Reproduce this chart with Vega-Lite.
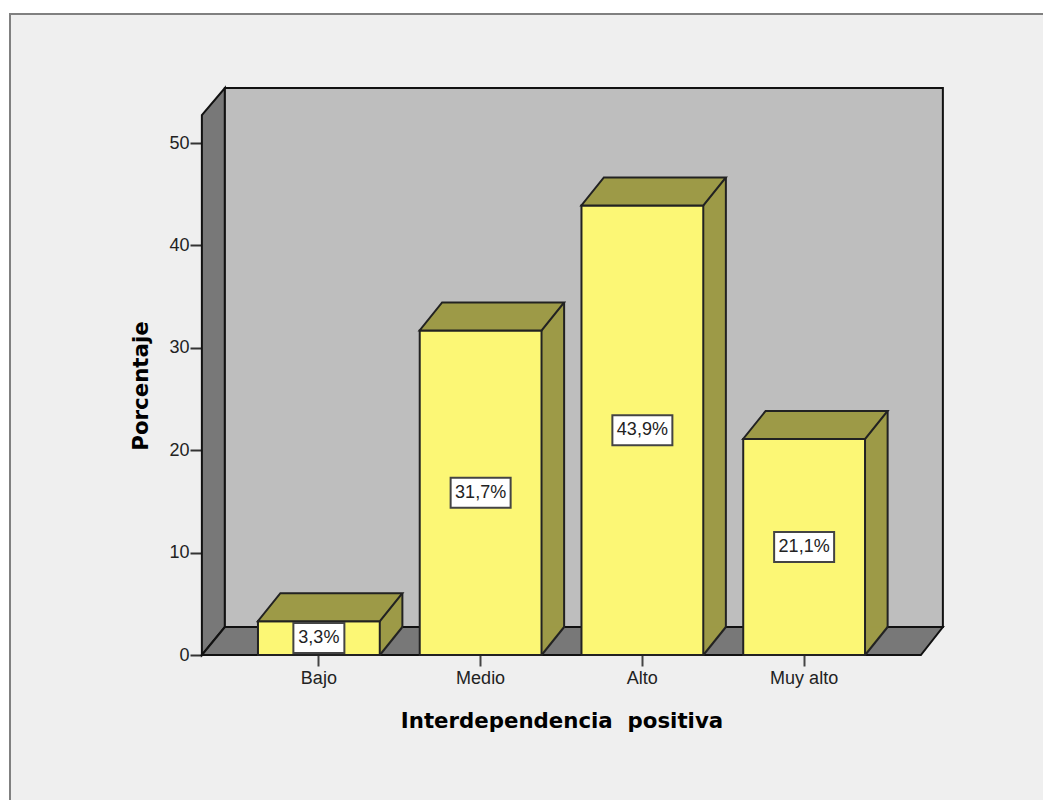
{"$schema":"https://vega.github.io/schema/vega-lite/v6.json","width":1037,"height":790,"autosize":{"type":"none"},"padding":{"left":10,"top":14,"right":0,"bottom":0},"background":"#ffffff","view":{"fill":"#efefef","stroke":"#808080","strokeWidth":2},"data":{"values":[{"categoria":"Bajo","porcentaje":3.3,"etiqueta":"3,3%"},{"categoria":"Medio","porcentaje":31.7,"etiqueta":"31,7%"},{"categoria":"Alto","porcentaje":43.9,"etiqueta":"43,9%"},{"categoria":"Muy alto","porcentaje":21.1,"etiqueta":"21,1%"}]},"encoding":{"x":{"field":"categoria","type":"nominal","sort":null,"scale":{"type":"band","domain":["Bajo","Medio","Alto","Muy alto"],"range":[228,875],"paddingInner":0.247,"paddingOuter":0.1235},"axis":{"title":"Interdependencia\u00a0\u00a0positiva","titleFont":"DejaVu Sans","titleFontWeight":"bold","titleFontSize":21.3,"titleColor":"#000000","titlePadding":23,"labelFont":"Liberation Sans","labelFontSize":18,"labelColor":"#222222","labelAngle":0,"labelPadding":3,"tickSize":11,"tickWidth":2,"tickColor":"#444444","domain":false,"grid":false,"offset":-149}},"y":{"field":"porcentaje","type":"quantitative","scale":{"domain":[0,52.64],"range":[641,102],"nice":false,"zero":false},"axis":{"title":"Porcentaje","titleFont":"DejaVu Sans","titleFontWeight":"bold","titleFontSize":21.3,"titleColor":"#000000","titlePadding":17,"labelFont":"Liberation Sans","labelFontSize":18,"labelColor":"#222222","labelPadding":1,"tickSize":12,"tickWidth":2,"tickColor":"#333333","values":[0,10,20,30,40,50],"domain":false,"grid":false,"offset":-192}}},"layer":[{"data":{"values":[{"categoria":"Bajo","porcentaje":0}]},"mark":{"type":"point","filled":true,"size":4,"fill":"#787878","stroke":"#111111","strokeWidth":2,"opacity":1,"shape":"M-117,0L-117,-540L-94,-567L-94,-28Z"}},{"data":{"values":[{"categoria":"Bajo","porcentaje":0}]},"mark":{"type":"point","filled":true,"size":4,"fill":"#bebebe","stroke":"#111111","strokeWidth":2,"opacity":1,"shape":"M-94,-28L-94,-567L624,-567L624,-28Z"}},{"data":{"values":[{"categoria":"Bajo","porcentaje":0}]},"mark":{"type":"point","filled":true,"size":4,"fill":"#787878","stroke":"#111111","strokeWidth":2,"opacity":1,"shape":"M-117,0L602,0L624,-28L-94,-28Z"}},{"mark":{"type":"bar","fill":"#9d9a47","xOffset":22.5,"x2Offset":22.5,"yOffset":-28,"y2Offset":-28},"encoding":{"y2":{"datum":0}}},{"transform":[{"calculate":"0","as":"base"}],"mark":{"type":"point","filled":true,"size":4,"fill":"#9d9a47","stroke":"#9d9a47","strokeWidth":1,"opacity":1,"shape":"M61,0L61,-28L83.5,-28Z"},"encoding":{"y":{"field":"base","type":"quantitative"}}},{"transform":[{"calculate":"0","as":"base"}],"mark":{"type":"point","filled":false,"size":4,"stroke":"#222222","strokeWidth":2,"opacity":1,"shape":"M61,0L83.5,-28"},"encoding":{"y":{"field":"base","type":"quantitative"}}},{"mark":{"type":"rule","stroke":"#222222","strokeWidth":2,"xOffset":83.5,"yOffset":-28,"y2Offset":-28},"encoding":{"y2":{"datum":0}}},{"mark":{"type":"bar","fill":"#fcf775","stroke":"#222222","strokeWidth":2},"encoding":{"y2":{"datum":0}}},{"mark":{"type":"point","filled":true,"size":4,"fill":"#9d9a47","stroke":"#222222","strokeWidth":2,"opacity":1,"shape":"M-61,0L61,0L83.5,-28L-38.5,-28Z"}},{"transform":[{"calculate":"datum.porcentaje/2","as":"mitad"}],"mark":{"type":"point","filled":true,"size":4,"fill":"#ffffff","stroke":"#444444","strokeWidth":2,"opacity":1},"encoding":{"y":{"field":"mitad","type":"quantitative"},"shape":{"field":"categoria","type":"nominal","legend":null,"scale":{"domain":["Bajo","Medio","Alto","Muy alto"],"range":["M-25.5,-15L25.5,-15L25.5,15L-25.5,15Z","M-30,-15L30,-15L30,15L-30,15Z","M-30,-15L30,-15L30,15L-30,15Z","M-30,-15L30,-15L30,15L-30,15Z"]}}}},{"transform":[{"calculate":"datum.porcentaje/2","as":"mitad"}],"mark":{"type":"text","font":"Liberation Sans","fontSize":18,"fill":"#222222","align":"center","baseline":"middle"},"encoding":{"y":{"field":"mitad","type":"quantitative"},"text":{"field":"etiqueta","type":"nominal"}}}]}
